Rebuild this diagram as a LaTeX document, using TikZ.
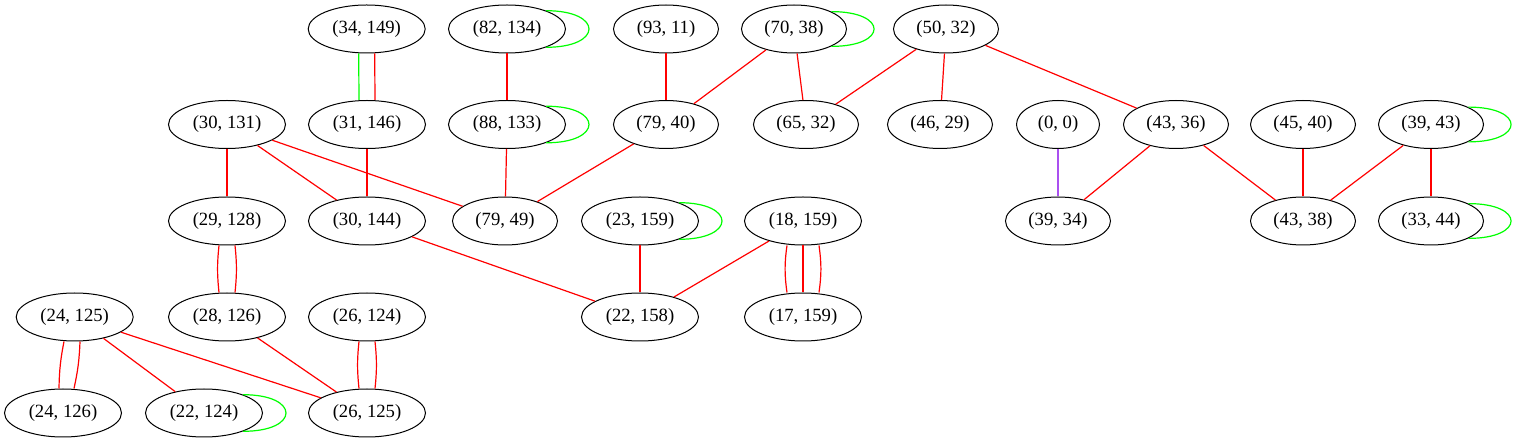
\documentclass[tikz,border=0pt]{standalone}
\usepackage{fontspec}
\setmainfont{Liberation Serif}
\usetikzlibrary{shapes.geometric}
\definecolor{gvred}{RGB}{255,0,0}
\definecolor{gvgreen}{RGB}{0,255,0}
\definecolor{gvpurple}{RGB}{170,80,240}
\begin{document}
\begin{tikzpicture}[x=1pt,y=-1pt,
  gn/.style={draw,ellipse,line width=1pt,inner sep=0pt,minimum height=48pt,font=\fontsize{18.67}{22}\selectfont},
  w3/.style={gn,minimum width=117pt},
  w2/.style={gn,minimum width=105pt},
  w1/.style={gn,minimum width=83pt},
  re/.style={draw=gvred,line width=1.2pt},
  ge/.style={draw=gvgreen,line width=1.2pt},
  pe/.style={draw=gvpurple,line width=1.3pt}]
\useasboundingbox (0,0) rectangle (1513,443);
% row 1
\node[w3] (a34) at (366.7,29) {(34, 149)};
\node[w3] (a82) at (507,29) {(82, 134)};
\node[w2] (a93) at (666,29) {(93, 11)};
\node[w2] (a70) at (794,29) {(70, 38)};
\node[w2] (a50) at (946,29) {(50, 32)};
% row 2
\node[w3] (b30) at (227,124.5) {(30, 131)};
\node[w3] (b31) at (367,124.5) {(31, 146)};
\node[w3] (b88) at (507,124.5) {(88, 133)};
\node[w2] (b79) at (666,124.5) {(79, 40)};
\node[w2] (b65) at (806,124.5) {(65, 32)};
\node[w2] (b46) at (940,124.5) {(46, 29)};
\node[w1] (b0) at (1058,124.5) {(0, 0)};
\node[w2] (b43) at (1176,124.5) {(43, 36)};
\node[w2] (b45) at (1303,124.5) {(45, 40)};
\node[w2] (b39) at (1431,124.5) {(39, 43)};
% row 3
\node[w3] (c29) at (227,221) {(29, 128)};
\node[w3] (c30) at (367,221) {(30, 144)};
\node[w2] (c79) at (505,221) {(79, 49)};
\node[w3] (c23) at (640,221) {(23, 159)};
\node[w3] (c18) at (803,221) {(18, 159)};
\node[w2] (c39) at (1058,221) {(39, 34)};
\node[w2] (c43) at (1303,221) {(43, 38)};
\node[w2] (c33) at (1431,221) {(33, 44)};
% row 4
\node[w3] (d24) at (74.7,317) {(24, 125)};
\node[w3] (d28) at (227,317) {(28, 126)};
\node[w3] (d26) at (367,317) {(26, 124)};
\node[w3] (d22) at (640,317) {(22, 158)};
\node[w3] (d17) at (803,317) {(17, 159)};
% row 5
\node[w3] (e24) at (63,413) {(24, 126)};
\node[w3] (e22) at (204,413) {(22, 124)};
\node[w3] (e26) at (367,413) {(26, 125)};
% self loops
\foreach \n in {a82,a70,b88,b39,c23,c33,e22}
  \draw[ge] (\n.25) .. controls +(57,0) and +(57,0) .. (\n.-25);
% parallel edges
\draw[ge] ([xshift=-8pt]a34.south) -- ([xshift=-8pt]b31.north);
\draw[re] ([xshift=8pt]a34.south) -- ([xshift=8pt]b31.north);
\draw[re] ([xshift=-8pt]c29.south) to[bend right=6] ([xshift=-8pt]d28.north);
\draw[re] ([xshift=8pt]c29.south) to[bend left=6] ([xshift=8pt]d28.north);
\draw[re] ([xshift=-8pt]d26.south) to[bend right=6] ([xshift=-8pt]e26.north);
\draw[re] ([xshift=8pt]d26.south) to[bend left=6] ([xshift=8pt]e26.north);
\draw[re] ([xshift=-10.7pt]d24.south) to[bend right=5] ([xshift=-4pt]e24.north);
\draw[re] ([xshift=5.3pt]d24.south) to[bend left=5] ([xshift=11pt]e24.north);
\draw[re] ([xshift=-16pt]c18.south) to[bend right=8] ([xshift=-16pt]d17.north);
\draw[re] (c18) -- (d17);
\draw[re] ([xshift=16pt]c18.south) to[bend left=8] ([xshift=16pt]d17.north);
% single edges
\draw[re] (a82) -- (b88);
\draw[re] (b88) -- (c79);
\draw[re] (a93) -- (b79);
\draw[re] (a70) -- (b79);
\draw[re] (a70) -- (b65);
\draw[re] (a50) -- (b65);
\draw[re] (a50) -- (b46);
\draw[re] (a50) -- (b43);
\draw[re] (b30) -- (c29);
\draw[re] (b30) -- (c30);
\draw[re] (b30) -- (c79);
\draw[re] (b31) -- (c30);
\draw[re] (b79) -- (c79);
\draw[pe] (b0) -- (c39);
\draw[re] (b43) -- (c39);
\draw[re] (b43) -- (c43);
\draw[re] (b45) -- (c43);
\draw[re] (b39) -- (c43);
\draw[re] (b39) -- (c33);
\draw[re] (c23) -- (d22);
\draw[re] (c18) -- (d22);
\draw[re] (c30) -- (d22);
\draw[re] (d28) -- (e26);
\draw[re] (d24) -- (e22);
\draw[re] (d24) -- (e26);
\end{tikzpicture}
\end{document}
